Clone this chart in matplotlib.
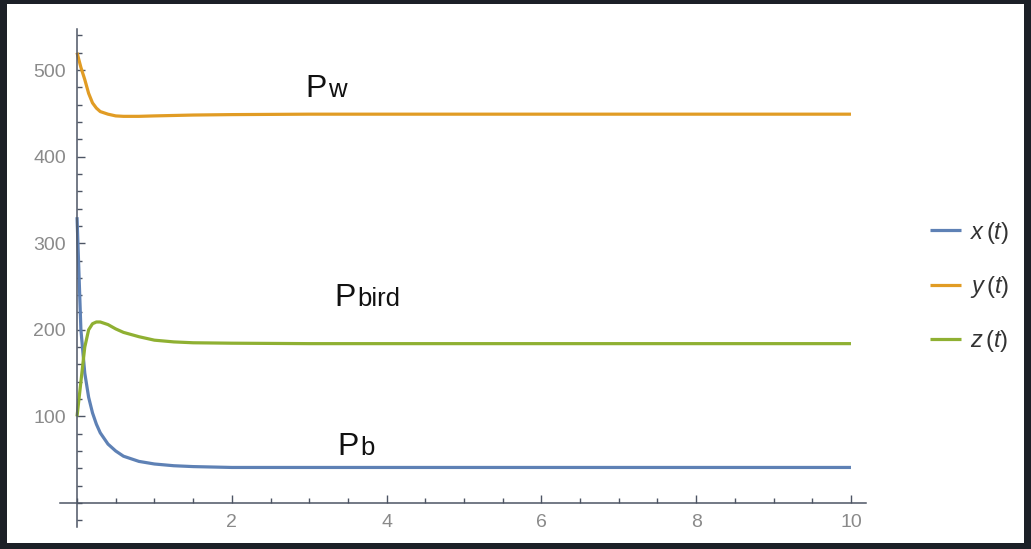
import matplotlib.pyplot as plt
import matplotlib.patches as patches
from matplotlib.ticker import MultipleLocator
import numpy as np

plt.rcParams['font.family'] = 'Liberation Sans'
plt.rcParams['mathtext.fontset'] = 'custom'
plt.rcParams['mathtext.rm'] = 'Liberation Sans'
plt.rcParams['mathtext.it'] = 'Liberation Sans:italic'

# time samples
t = [0, 0.05, 0.1, 0.15, 0.2, 0.25, 0.3, 0.4, 0.5, 0.6, 0.8, 1.0, 1.25, 1.5, 2, 3, 4, 6, 8, 10]

# x(t) - blue, P_b
x_vals = [330, 200, 150, 122, 104, 91, 81, 68, 60, 54, 48, 45, 43, 42, 41, 41, 41, 41, 41, 41]
# y(t) - orange, P_w
y_vals = [520, 503, 489, 473, 462, 456, 452, 449, 447, 446.5, 446.5, 447, 447.5, 448, 448.5, 449, 449, 449, 449, 449]
# z(t) - green, P_bird
z_vals = [100, 140, 180, 200, 207, 209, 209, 206, 201, 197, 192, 188, 186, 185, 184.5, 184, 184, 184, 184, 184]

series_labels = [r'$x\,(t)$', r'$y\,(t)$', r'$z\,(t)$']
colors = ['#5E81B5', '#E19C24', '#8FB032']

x_ticks = [2, 4, 6, 8, 10]
y_ticks = [100, 200, 300, 400, 500]

# curve names: main letter, subscript, anchor (t, value)
names = ['P', 'P', 'P']
subs = ['w', 'bird', 'b']
name_t = [2.95, 3.33, 3.37]
name_v = [469, 227.5, 55]

fig = plt.figure(figsize=(10.31, 5.49), dpi=100)
fig.patch.set_facecolor('#1c2027')
# white panel inside the dark frame
fig.patches.append(patches.Rectangle((7 / 1031, 6 / 549), 1017 / 1031, 539 / 549,
                                     transform=fig.transFigure, facecolor='white',
                                     edgecolor='none', zorder=-10))

ax = fig.add_axes([0.0582, 0.0397, 0.7822, 0.9069])
ax.set_facecolor('none')

for vals, lab, col in zip([x_vals, y_vals, z_vals], series_labels, colors):
    ax.plot(t, vals, color=col, lw=2.3, label=lab, solid_capstyle='butt')

ax.set_xlim(-0.22, 10.2)
ax.set_ylim(-28, 547)

axis_col = '#4d5564'
for side in ['top', 'right']:
    ax.spines[side].set_visible(False)
for side in ['left', 'bottom']:
    ax.spines[side].set_position(('data', 0))
    ax.spines[side].set_color(axis_col)
    ax.spines[side].set_linewidth(1.1)

ax.set_xticks(x_ticks)
ax.set_yticks(y_ticks)
ax.xaxis.set_minor_locator(MultipleLocator(0.5))
ax.yaxis.set_minor_locator(MultipleLocator(20))
ax.tick_params(which='both', direction='in', color=axis_col, width=1.0)
ax.tick_params(which='major', length=6, labelsize=14, labelcolor='#8a8a8a', pad=8)
ax.tick_params(which='minor', length=3.5)

# curve annotations: big P with a smaller name on the same baseline
for nm, sb, tt, vv in zip(names, subs, name_t, name_v):
    ax.text(tt, vv, nm, fontsize=23, color='#111111', va='baseline')
    ax.annotate(sb, (tt, vv), xytext=(16.5, 0), textcoords='offset points',
                fontsize=18.5, color='#111111', va='baseline')

leg = ax.legend(loc='center left', bbox_to_anchor=(918 / 1031, 1 - 287 / 549),
                bbox_transform=fig.transFigure, frameon=False, fontsize=17,
                handlelength=1.3, handletextpad=0.4, labelspacing=1.2, borderpad=0)
for txt in leg.get_texts():
    txt.set_color('#333333')

fig.savefig('out.png', dpi=100, facecolor=fig.get_facecolor())
